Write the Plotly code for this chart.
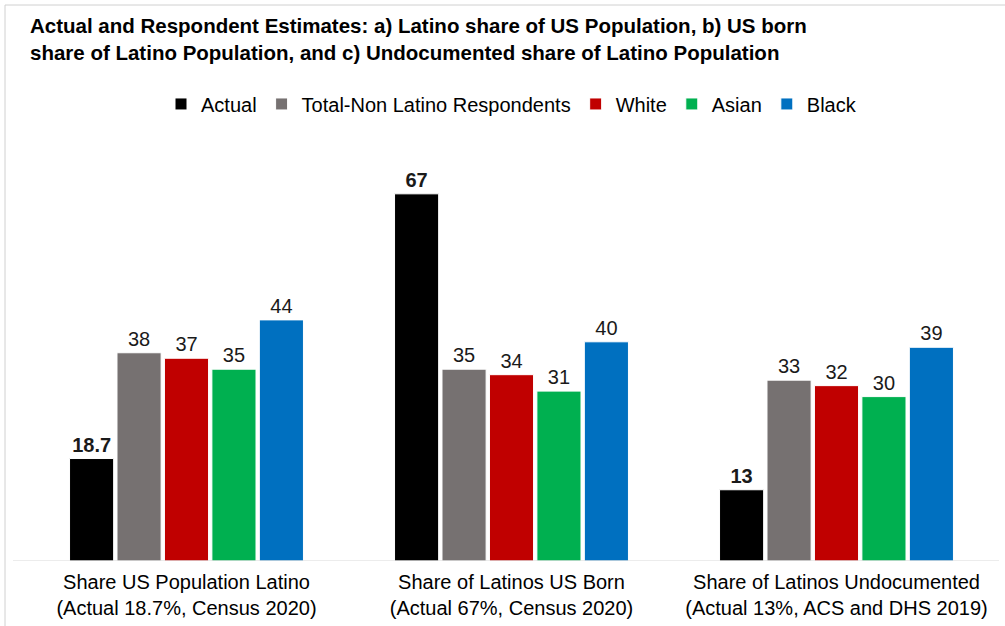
import plotly.graph_objects as go

categories = [
    "Share US Population Latino<br>(Actual 18.7%, Census 2020)",
    "Share of Latinos US Born<br>(Actual 67%, Census 2020)",
    "Share of Latinos Undocumented<br>(Actual 13%, ACS and DHS 2019)",
]
series_names = ["Actual", "Total-Non Latino Respondents", "White", "Asian", "Black"]
actual = [18.7, 67, 13]
total_non_latino = [38, 35, 33]
white = [37, 34, 32]
asian = [35, 31, 30]
black = [44, 40, 39]
colors = ["#000000", "#767171", "#C00000", "#00B050", "#0070C0"]

series_values = [actual, total_non_latino, white, asian, black]
FONT = "Liberation Sans, Arial"

fig = go.Figure()
for i, (name, vals, col) in enumerate(zip(series_names, series_values, colors)):
    if i == 0:
        txt = ["<b>%g</b>" % v for v in vals]
    else:
        txt = ["%g" % v for v in vals]
    fig.add_trace(go.Bar(
        x=categories, y=vals, name=name,
        marker=dict(color=col, line=dict(color="white", width=1)),
        text=txt, textposition="outside", textangle=0,
        textfont=dict(family=FONT, size=20, color="#1a1a1a"),
        cliponaxis=False,
    ))

fig.update_layout(
    width=1005, height=626,
    paper_bgcolor="white", plot_bgcolor="white",
    margin=dict(l=24, r=6, t=150, b=65),
    barmode="group", bargap=0.27, bargroupgap=0.07,
    font=dict(family=FONT, size=20, color="#000000"),
    title=dict(
        text="<b>Actual and Respondent Estimates: a) Latino share of US Population, b) US born<br>share of Latino Population, and c) Undocumented share of Latino Population</b>",
        x=0, xref="paper", xanchor="left", y=0.947, yanchor="top",
        pad=dict(l=6),
        font=dict(family=FONT, size=20.5, color="#000000"),
    ),
    legend=dict(
        orientation="h", x=0.5, xanchor="center", y=1.112, yanchor="middle",
        font=dict(family=FONT, size=20, color="#000000"),
        itemwidth=30, traceorder="normal",
    ),
    showlegend=True,
)
fig.update_xaxes(
    showline=False, ticks="outside", ticklen=3, tickcolor="white",
    tickfont=dict(family=FONT, size=20, color="#000000"),
    showgrid=False,
)
fig.update_yaxes(range=[0, 75], visible=False, showgrid=False)

# baseline (category axis line)
fig.add_shape(type="line", xref="paper", yref="y",
              x0=(13 - 24) / 975, x1=1.0, y0=0, y1=0,
              line=dict(color="#d9d9d9", width=1))
# chart frame
fig.add_shape(type="rect", xref="paper", yref="paper",
              x0=(5 - 24) / 975, x1=(1040 - 24) / 975, y0=(561 - 700) / 411, y1=(561 - 5) / 411,
              line=dict(color="#d0d0d0", width=1), fillcolor="rgba(0,0,0,0)", layer="below")

fig.write_html("out.html")
